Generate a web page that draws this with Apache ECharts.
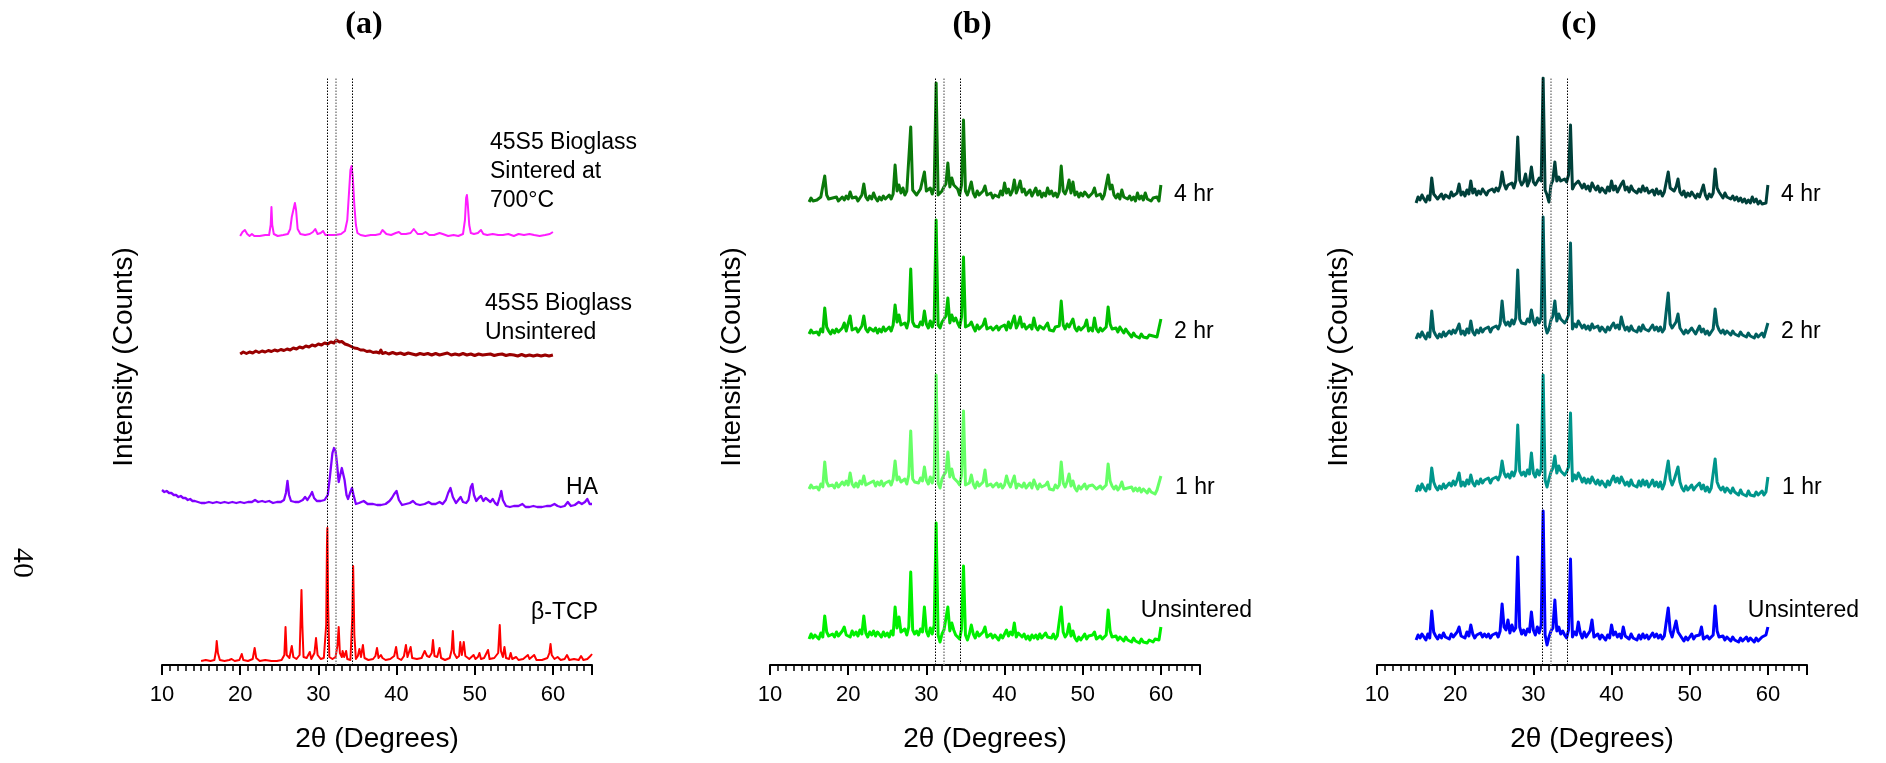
<!DOCTYPE html>
<html>
<head>
<meta charset="utf-8">
<script src="https://cdn.jsdelivr.net/npm/echarts@6/dist/echarts.min.js"></script>
<style>
  html, body { margin: 0; padding: 0; background: #fff; }
  #chart { width: 1886px; height: 763px; }
</style>
</head>
<body>
<div id="chart"></div>
<script>
// Axis ticks (2θ, degrees)
const axisMin = 10, axisMax = 65, axisStep = 10;
// Reference peak positions marked by dotted lines (2θ, degrees)
const referenceLines = [31.2, 32.2, 34.3];

// Panel (a): reference materials, [2θ, intensity (a.u., stacked)]
const bioglassSintered = [[20.0,429],[20.3,433],[20.6,435],[20.9,431],[21.2,429],[21.5,431],[21.8,429],[22.5,429],[23.2,430],[23.7,430],[23.9,440],[24.0,458],[24.1,440],[24.3,431],[24.8,429],[25.5,430],[26.1,431],[26.4,436],[26.6,448],[26.8,455],[27.0,462],[27.15,455],[27.35,436],[27.7,431],[28.3,430],[28.9,431],[29.3,433],[29.6,436],[29.9,431],[30.3,432],[30.6,434],[30.9,430],[31.5,430],[32.2,430],[32.9,431],[33.4,434],[33.7,445],[33.9,470],[34.1,495],[34.25,499],[34.4,488],[34.6,460],[34.8,440],[35.0,432],[35.4,430],[36.0,429],[36.7,430],[37.3,430],[37.9,431],[38.2,435],[38.4,436],[38.7,431],[39.3,430],[39.9,432],[40.3,433],[40.6,431],[41.2,431],[41.8,432],[42.2,436],[42.4,437],[42.7,431],[43.3,431],[43.7,433],[44.2,430],[44.8,430],[45.5,432],[45.9,431],[46.6,429],[47.3,430],[47.9,429],[48.5,431],[48.75,445],[48.9,467],[49.0,470],[49.1,462],[49.3,440],[49.5,432],[49.9,431],[50.4,432],[50.8,435],[51.1,431],[51.6,430],[52.3,431],[53.0,430],[53.6,430],[54.3,431],[55.0,429],[55.6,431],[56.3,430],[57.0,431],[57.6,430],[58.3,429],[59.0,430],[59.6,431],[60.0,433]];

const bioglassUnsintered = [[20.0,311],[20.4,313],[20.8,311.5],[21.2,313],[21.6,312],[22.0,314],[22.4,312.5],[22.8,314],[23.2,313],[23.6,314.5],[24.0,313.5],[24.4,315],[24.8,314],[25.2,315.5],[25.6,314.5],[26.0,316],[26.4,315],[26.8,317],[27.2,316],[27.6,318],[28.0,317],[28.4,319],[28.8,318],[29.2,320],[29.6,319],[30.0,321],[30.4,320],[30.8,322],[31.2,321],[31.6,323],[32.0,322],[32.3,325],[32.5,326],[32.7,323],[33.0,323.5],[33.4,321],[33.8,320],[34.2,318.5],[34.6,317],[35.0,316.5],[35.4,315],[35.8,315],[36.2,313.5],[36.6,314],[37.0,312.5],[37.4,313],[37.8,312],[38.0,315],[38.2,311.5],[38.6,312.5],[39.0,311],[39.5,312.5],[40.0,311],[40.5,312],[41.0,310.5],[41.5,312],[42.0,311],[42.5,310],[43.0,311.5],[43.5,310.5],[44.0,311.5],[44.5,310],[45.0,311.5],[45.5,310],[46.0,311],[46.5,312],[47.0,310],[47.5,311],[48.0,310],[48.5,311.5],[49.0,310],[49.5,311],[50.0,309.5],[50.5,311],[51.0,310],[51.5,310.5],[52.0,311],[52.5,309.5],[53.0,310.5],[53.5,311],[54.0,309.5],[54.5,310.5],[55.0,310],[55.5,309],[56.0,310.5],[56.5,309],[57.0,310],[57.5,309],[58.0,310],[58.5,309],[59.0,310],[59.5,309],[60.0,310]];

const hydroxyapatite = [[10.0,175],[10.3,173],[10.6,174],[10.9,172],[11.2,172],[11.5,170],[11.8,170],[12.1,168],[12.4,169],[12.7,167],[13.0,167],[13.3,165],[13.6,166],[13.9,164],[14.2,164],[14.6,163],[15.0,162],[15.5,162],[16.0,163],[16.5,162],[17.0,163],[17.5,162],[18.0,163],[18.5,162],[19.0,163],[19.5,162],[20.0,163],[20.5,162],[21.0,163],[21.5,163],[21.9,165],[22.3,163],[22.8,164],[23.2,163],[23.7,164],[24.2,162],[24.7,163],[25.2,163],[25.6,165],[25.85,172],[26.05,184],[26.25,170],[26.5,164],[27.0,163],[27.5,163],[28.0,165],[28.3,168],[28.6,165],[29.0,170],[29.2,173],[29.45,167],[29.8,164],[30.3,164],[30.8,165],[31.2,170],[31.5,190],[31.8,212],[32.0,217],[32.2,214],[32.4,200],[32.6,183],[32.8,190],[33.0,197],[33.15,197],[33.35,185],[33.6,170],[33.8,166],[34.05,172],[34.3,177],[34.5,170],[34.8,161],[35.2,162],[35.8,164],[36.3,161],[37.0,161],[37.5,160],[38.0,160],[38.6,161],[39.1,164],[39.4,167],[39.7,171],[40.0,174],[40.3,165],[40.7,160],[41.2,161],[41.7,162],[42.1,164],[42.5,161],[43.0,160],[43.6,161],[44.1,163],[44.5,161],[45.0,161],[45.5,163],[45.9,161],[46.3,165],[46.6,172],[46.9,177],[47.2,168],[47.6,162],[47.9,165],[48.2,168],[48.5,163],[48.9,162],[49.2,165],[49.5,178],[49.7,181],[49.9,170],[50.2,164],[50.5,167],[50.8,169],[51.1,164],[51.4,167],[51.7,165],[52.0,163],[52.3,166],[52.6,162],[52.9,160],[53.2,168],[53.4,174],[53.6,165],[54.0,159],[54.5,158],[55.0,159],[55.6,159],[56.1,161],[56.5,158],[57.0,158],[57.5,159],[58.0,158],[58.6,158],[59.2,159],[59.7,159],[60.2,161],[60.6,159],[61.0,158],[61.5,159],[61.9,163],[62.3,159],[62.8,160],[63.3,163],[63.7,161],[64.1,163],[64.4,166],[64.7,161],[65.0,161]];

const betaTCP = [[15.0,4],[15.6,5],[16.2,4],[16.7,5],[16.9,14],[17.0,24],[17.15,12],[17.4,5],[18.0,4],[18.6,5],[18.9,6],[19.3,4],[19.9,5],[20.2,11],[20.4,5],[21.0,4],[21.6,6],[21.85,17],[22.05,7],[22.5,4],[23.2,5],[24.0,4],[24.7,4],[25.3,5],[25.65,10],[25.8,38],[25.95,10],[26.3,7],[26.6,19],[26.8,8],[27.2,6],[27.6,10],[27.75,50],[27.84,75],[27.95,40],[28.1,8],[28.5,7],[28.9,13],[29.1,6],[29.5,12],[29.7,27],[29.9,10],[30.3,6],[30.7,7],[31.0,40],[31.1,120],[31.15,137],[31.25,60],[31.4,8],[31.8,6],[32.2,8],[32.45,20],[32.6,38],[32.75,12],[33.0,8],[33.1,14],[33.3,8],[33.55,14],[33.7,6],[34.1,5],[34.35,50],[34.45,99],[34.6,30],[34.8,6],[35.05,9],[35.25,16],[35.45,8],[35.7,20],[35.9,7],[36.4,5],[37.0,6],[37.3,9],[37.5,17],[37.7,7],[38.0,10],[38.2,7],[38.6,5],[39.2,6],[39.7,9],[39.94,18],[40.15,7],[40.6,5],[40.95,9],[41.2,20],[41.4,8],[41.65,10],[41.8,18],[42.0,7],[42.6,6],[43.2,7],[43.6,14],[43.9,9],[44.2,8],[44.5,12],[44.66,25],[44.85,9],[45.2,8],[45.5,17],[45.7,7],[46.2,5],[46.8,7],[47.05,15],[47.2,34],[47.35,12],[47.7,7],[48.0,9],[48.15,23],[48.35,10],[48.6,23],[48.8,9],[49.3,6],[49.85,10],[50.1,6],[50.4,8],[50.6,12],[50.8,6],[51.2,7],[51.7,15],[51.9,6],[52.5,7],[53.0,12],[53.2,40],[53.35,14],[53.6,8],[53.8,18],[54.0,7],[54.4,6],[54.6,12],[54.8,6],[55.3,8],[55.6,5],[56.2,6],[56.8,10],[57.0,6],[57.6,10],[57.9,5],[58.6,5],[59.3,7],[59.55,12],[59.7,21],[59.85,10],[60.2,6],[60.6,8],[61.0,5],[61.5,6],[61.8,10],[62.1,5],[62.7,6],[63.3,5],[63.6,9],[63.9,5],[64.4,6],[64.8,9],[65.0,11]];

// Scan angles shared by the sintering-time series in panels (b) and (c)
const scanAngles = [
  15,15.25,15.5,15.75, 16,16.25,16.5,16.75, 17,17.25,17.5,17.75, 18,18.25,18.5,18.75, 19,19.25,19.5,19.75,
  20,20.25,20.5,20.75, 21,21.25,21.5,21.75, 22,22.25,22.5,22.75, 23,23.25,23.5,23.75, 24,24.25,24.5,24.75,
  25,25.25,25.5,25.75, 26,26.25,26.5,26.75, 27,27.25,27.5,27.75, 28,28.25,28.5,28.75, 29,29.25,29.5,29.75,
  30,30.25,30.5,30.75, 31,31.25,31.5,31.75, 32,32.25,32.5,32.75, 33,33.25,33.5,33.75, 34,34.25,34.5,34.75,
  35,35.25,35.5,35.75, 36,36.25,36.5,36.75, 37,37.25,37.5,37.75, 38,38.25,38.5,38.75, 39,39.25,39.5,39.75,
  40,40.25,40.5,40.75, 41,41.25,41.5,41.75, 42,42.25,42.5,42.75, 43,43.25,43.5,43.75, 44,44.25,44.5,44.75,
  45,45.25,45.5,45.75, 46,46.25,46.5,46.75, 47,47.25,47.5,47.75, 48,48.25,48.5,48.75, 49,49.25,49.5,49.75,
  50,50.25,50.5,50.75, 51,51.25,51.5,51.75, 52,52.25,52.5,52.75, 53,53.25,53.5,53.75, 54,54.25,54.5,54.75,
  55,55.25,55.5,55.75, 56,56.25,56.5,56.75, 57,57.25,57.5,57.75, 58,58.25,58.5,58.75, 59,59.25,59.5,59.75,
  60
];

// Panel (b) intensities (a.u., stacked)
const b4hr = [
  463,467,464,466, 465,463,468,466, 489,470,466,464, 467,465,468,464, 466,468,465,469,
  466,473,467,465, 468,464,467,470, 481,468,465,469, 466,472,467,464, 468,465,469,466,
  467,470,466,471, 500,474,480,472, 477,470,474,476, 538,475,473,470, 472,476,478,493,
  474,472,477,471, 478,582,470,468, 474,478,481,502, 478,487,480,480, 476,470,480,545,
  474,470,476,483, 472,468,474,470, 471,474,479,470, 468,472,467,470, 471,468,474,470,
  482,472,476,470, 474,485,472,477, 484,473,476,470, 471,475,469,473, 477,470,474,468,
  472,469,477,471, 474,469,472,468, 473,499,474,471, 476,485,472,483, 470,473,468,472,
  469,473,475,468, 470,472,477,469, 468,471,466,470, 472,490,476,480, 470,467,471,466,
  475,468,470,466, 469,465,468,464, 472,466,469,465, 472,466,468,464, 467,465,468,464,
  480
];
const b2hr = [
  331,335,332,334, 333,330,336,333, 357,338,334,331, 335,332,336,333, 334,337,342,334,
  336,349,335,333, 337,333,336,339, 349,336,333,337, 338,334,337,332, 336,333,338,334,
  335,338,334,340, 360,343,350,340, 338,342,337,345, 396,343,339,341, 338,343,340,354,
  341,337,344,338, 345,445,340,337, 343,346,349,367, 342,350,344,347, 342,338,348,408,
  338,336,340,343, 338,334,340,336, 337,340,346,336, 334,338,335,337, 339,335,338,336,
  340,335,343,337, 339,349,337,341, 348,338,341,336, 337,340,336,347, 338,335,339,337,
  336,339,342,335, 337,334,338,336, 339,364,340,336, 341,338,336,346, 337,334,338,335,
  336,339,345,334, 337,334,347,336, 333,337,334,336, 338,358,341,336, 334,337,333,338,
  335,332,336,333, 331,328,332,329, 330,327,331,328, 329,327,330,328, 329,331,328,330,
  346
];
const b1hr = [
  176,180,177,179, 178,175,181,178, 203,183,179,177, 180,177,182,178, 179,183,180,184,
  180,192,181,178, 182,178,184,181, 189,180,178,182, 181,184,179,183, 180,184,179,182,
  181,184,180,186, 204,185,188,183, 182,186,181,190, 234,186,183,185, 182,187,184,198,
  185,181,188,182, 190,290,182,177, 186,190,193,213, 188,196,187,188, 183,180,190,254,
  180,178,182,190, 181,177,183,179, 180,183,195,179, 177,181,178,180, 182,178,181,177,
  180,189,182,178, 179,189,177,181, 183,178,182,177, 179,182,177,185, 180,176,181,178,
  177,180,183,176, 178,175,180,177, 180,203,182,178, 183,191,179,184, 177,174,179,176,
  178,181,176,179, 177,180,182,176, 175,179,176,178, 180,201,184,179, 176,179,175,178,
  183,176,174,177, 175,178,174,177, 174,177,173,176, 175,172,176,173, 174,171,175,173,
  189
];
const bUnsintered = [
  26,31,27,30, 29,26,32,28, 49,33,29,27, 31,28,33,29, 30,34,38,30,
  32,28,34,30, 33,29,35,31, 49,32,28,33, 30,34,29,33, 31,28,33,29,
  32,28,34,30, 58,37,48,33, 31,36,30,38, 93,35,31,34, 30,36,33,58,
  34,29,37,31, 40,142,30,23, 31,35,33,58, 34,42,35,30, 28,26,36,99,
  30,25,31,40, 31,27,33,29, 30,33,38,28, 26,31,27,30, 28,25,30,27,
  31,35,29,33, 30,42,28,32, 33,28,31,26, 29,25,30,27, 30,26,31,27,
  29,32,28,30, 27,31,26,29, 30,58,33,28, 31,41,29,34, 27,24,28,25,
  28,31,26,29, 27,30,33,26, 25,29,26,28, 30,55,34,28, 26,29,25,28,
  27,24,28,25, 26,23,27,24, 25,22,26,23, 24,22,25,23, 23,26,24,25,
  38
];

// Panel (c) intensities (a.u., stacked)
const c4hr = [
  462,468,465,470, 466,463,469,465, 487,471,470,466, 468,471,466,470, 471,467,473,469,
  468,472,481,470, 473,469,475,471, 484,472,476,470, 474,471,476,473, 470,474,472,476,
  473,477,474,479, 493,481,476,480, 478,482,477,484, 528,485,480,483, 491,479,484,498,
  483,480,480,487, 484,587,475,470, 463,480,485,503, 484,488,484,482, 486,483,490,540,
  476,480,478,484, 484,477,481,476, 479,474,482,478, 475,479,473,477, 476,472,478,474,
  484,475,479,473, 477,481,484,475, 478,473,479,475, 477,472,476,473, 479,474,477,472,
  474,475,470,476, 471,474,469,473, 472,493,477,475, 474,478,486,473, 470,474,468,472,
  469,473,472,467, 471,468,474,480, 470,466,471,468, 472,496,477,473, 470,467,472,468,
  470,466,469,465, 468,464,467,463, 466,462,465,462, 468,463,466,461, 464,461,463,462,
  480
];
const c2hr = [
  326,331,328,333, 329,326,332,328, 354,334,330,327, 331,328,333,329, 330,334,331,335,
  332,336,341,331, 334,330,336,332, 344,333,330,335, 332,337,333,336, 334,338,333,337,
  335,339,336,341, 364,344,340,343, 339,345,341,347, 395,346,342,344, 341,346,343,355,
  344,340,347,342, 348,448,340,332, 336,345,349,364, 344,351,346,348, 342,345,350,422,
  336,341,338,344, 343,337,340,336, 339,335,341,337, 335,339,334,338, 336,333,338,335,
  339,342,337,340, 336,348,340,335, 338,334,339,335, 337,333,338,334, 340,336,338,334,
  337,340,335,338, 334,338,333,336, 338,372,341,337, 340,343,351,337, 334,331,335,332,
  333,337,334,331, 335,339,333,336, 331,334,330,333, 336,356,340,335, 332,335,331,334,
  333,330,334,331, 332,329,333,330, 331,328,332,329, 330,327,331,328, 329,332,328,330,
  342
];
const c1hr = [
  173,179,175,181, 177,174,180,176, 197,183,178,175, 179,176,181,177, 178,182,179,184,
  180,185,192,179, 183,179,185,181, 190,182,179,184, 181,186,182,185, 183,187,182,186,
  184,188,185,190, 204,192,188,191, 187,193,189,195, 240,194,190,193, 189,195,191,212,
  192,188,195,190, 196,290,185,178, 186,193,197,209, 192,199,194,196, 190,193,198,252,
  184,190,186,192, 188,183,187,182, 186,182,188,184, 181,185,180,184, 182,178,184,180,
  185,189,183,187, 182,188,184,180, 183,179,185,180, 182,178,184,179, 185,180,184,178,
  181,185,179,183, 178,183,176,181, 182,204,186,180, 185,187,198,183, 177,174,179,175,
  176,180,175,178, 177,182,176,180, 174,178,173,177, 179,206,183,178, 175,178,173,177,
  176,172,177,173, 174,170,175,171, 173,169,174,170, 172,169,173,170, 171,174,170,173,
  188
];
const cUnsintered = [
  25,30,27,31, 28,25,31,27, 54,33,29,26, 30,27,32,28, 29,26,31,28,
  30,33,38,29, 31,27,33,29, 40,31,27,30, 29,32,28,31, 28,31,27,30,
  29,32,28,34, 61,38,35,45, 32,40,34,37, 108,38,31,35, 30,36,33,53,
  35,30,38,32, 40,154,30,20, 28,34,37,65, 34,38,31,34, 30,27,35,106,
  28,33,30,43, 32,27,33,28, 30,34,45,28, 27,31,26,30, 28,25,30,27,
  40,30,33,28, 31,27,38,29, 30,26,31,27, 29,25,30,26, 31,27,30,26,
  29,32,28,31, 27,30,26,29, 30,57,34,28, 30,44,33,34, 27,24,28,25,
  28,31,26,29, 27,30,38,26, 25,29,26,28, 30,59,34,28, 26,29,25,28,
  27,24,28,25, 26,23,27,24, 25,28,24,27, 26,23,27,24, 25,28,26,30,
  38
];

// ---- chart construction ----
const SANS = '"Liberation Sans", Arial, sans-serif';
const SERIF = '"Liberation Serif", "Times New Roman", serif';

function onScan(values, name) {
  if (values.length !== scanAngles.length) {
    throw new Error(name + ' has ' + values.length + ' points, expected ' + scanAngles.length);
  }
  return scanAngles.map((a, i) => [a, values[i]]);
}

const panelLeft = [162, 770, 1377];
const grids = panelLeft.map(l => ({ left: l, top: 78, width: 430, height: 587 }));

const xAxes = panelLeft.map((_, i) => ({
  type: 'value', gridIndex: i, min: axisMin, max: axisMax, interval: axisStep,
  axisLine: { show: true, onZero: false, lineStyle: { color: '#000', width: 2 } },
  axisTick: { show: true, inside: false, length: 10, lineStyle: { color: '#000', width: 2 } },
  minorTick: { show: true, splitNumber: 10, length: 6, lineStyle: { color: '#000', width: 1.5 } },
  splitLine: { show: false }, minorSplitLine: { show: false },
  axisLabel: { color: '#000', fontSize: 22, fontFamily: SANS, margin: 19, showMaxLabel: false },
  name: '2θ (Degrees)', nameLocation: 'middle', nameGap: 60,
  nameTextStyle: { color: '#000', fontSize: 28, fontFamily: SANS }
}));
const yAxes = panelLeft.map((_, i) => ({ type: 'value', gridIndex: i, min: 0, max: 587, show: false }));

const guideLines = {
  silent: true, symbol: ['none', 'none'], label: { show: false }, animation: false,
  lineStyle: { color: '#000', width: 1, type: [1.5, 1.5] },
  data: referenceLines.map((v, k) => k === 1
    ? { xAxis: v, lineStyle: { color: '#8a8a8a', width: 1.6, type: [1.5, 1.5] } }
    : { xAxis: v })
};

function trace(panel, data, color, width, withGuides) {
  const s = {
    type: 'line', xAxisIndex: panel, yAxisIndex: panel, data,
    showSymbol: false, symbol: 'none', silent: true, animation: false,
    lineStyle: { color, width, join: 'round' }, itemStyle: { color }, z: 2
  };
  if (withGuides) s.markLine = guideLines;
  return s;
}

const series = [
  trace(0, betaTCP, '#ff0000', 2, true),
  trace(0, hydroxyapatite, '#8000ff', 2.3),
  trace(0, bioglassUnsintered, '#990000', 3),
  trace(0, bioglassSintered, '#ff1cff', 2),

  trace(1, onScan(bUnsintered, 'bUnsintered'), '#00f000', 3, true),
  trace(1, onScan(b1hr, 'b1hr'), '#66ff66', 3),
  trace(1, onScan(b2hr, 'b2hr'), '#00c000', 3),
  trace(1, onScan(b4hr, 'b4hr'), '#0a790a', 3),

  trace(2, onScan(cUnsintered, 'cUnsintered'), '#0000ff', 3, true),
  trace(2, onScan(c1hr, 'c1hr'), '#00968c', 3),
  trace(2, onScan(c2hr, 'c2hr'), '#006060', 3),
  trace(2, onScan(c4hr, 'c4hr'), '#00403a', 3)
];

function label(text, x, y, align, extra) {
  return Object.assign({
    type: 'text', x, y, silent: true,
    style: {
      text, x: 0, y: 0, fill: '#000', font: '23px ' + SANS,
      align, textAlign: align, verticalAlign: 'middle', textVerticalAlign: 'middle'
    }
  }, extra || {});
}

const graphics = [
  label('(a)', 364, 25, 'center'),
  label('(b)', 972, 25, 'center'),
  label('(c)', 1579, 25, 'center'),
  label('40', 22, 563, 'center', { rotation: -Math.PI / 2 }),

  label('45S5 Bioglass\nSintered at\n700°C', 490, 172, 'left'),
  label('45S5 Bioglass\nUnsintered', 485, 318, 'left'),
  label('HA', 598, 488, 'right'),
  label('β-TCP', 598, 613, 'right'),

  label('4 hr', 1174, 195, 'left'),
  label('2 hr', 1174, 332, 'left'),
  label('1 hr', 1175, 488, 'left'),
  label('Unsintered', 1252, 611, 'right'),

  label('4 hr', 1781, 195, 'left'),
  label('2 hr', 1781, 332, 'left'),
  label('1 hr', 1782, 488, 'left'),
  label('Unsintered', 1859, 611, 'right')
];
// panel titles in bold serif, page number in serif
graphics.slice(0, 3).forEach(g => { g.style.font = 'bold 32px ' + SERIF; });
graphics[3].style.font = '30px ' + SERIF;
graphics.slice(4, 6).forEach(g => { g.style.lineHeight = 29; });
// rotated intensity titles, one per panel
[124, 732, 1339].forEach(x => {
  graphics.push(label('Intensity (Counts)', x, 357, 'center', { rotation: Math.PI / 2 }));
  graphics[graphics.length - 1].style.font = '28px ' + SANS;
});

const chart = echarts.init(document.getElementById('chart'), null, { renderer: 'canvas' });
chart.setOption({
  backgroundColor: '#ffffff',
  animation: false,
  grid: grids,
  xAxis: xAxes,
  yAxis: yAxes,
  series,
  graphic: graphics
});
</script>
</body>
</html>
